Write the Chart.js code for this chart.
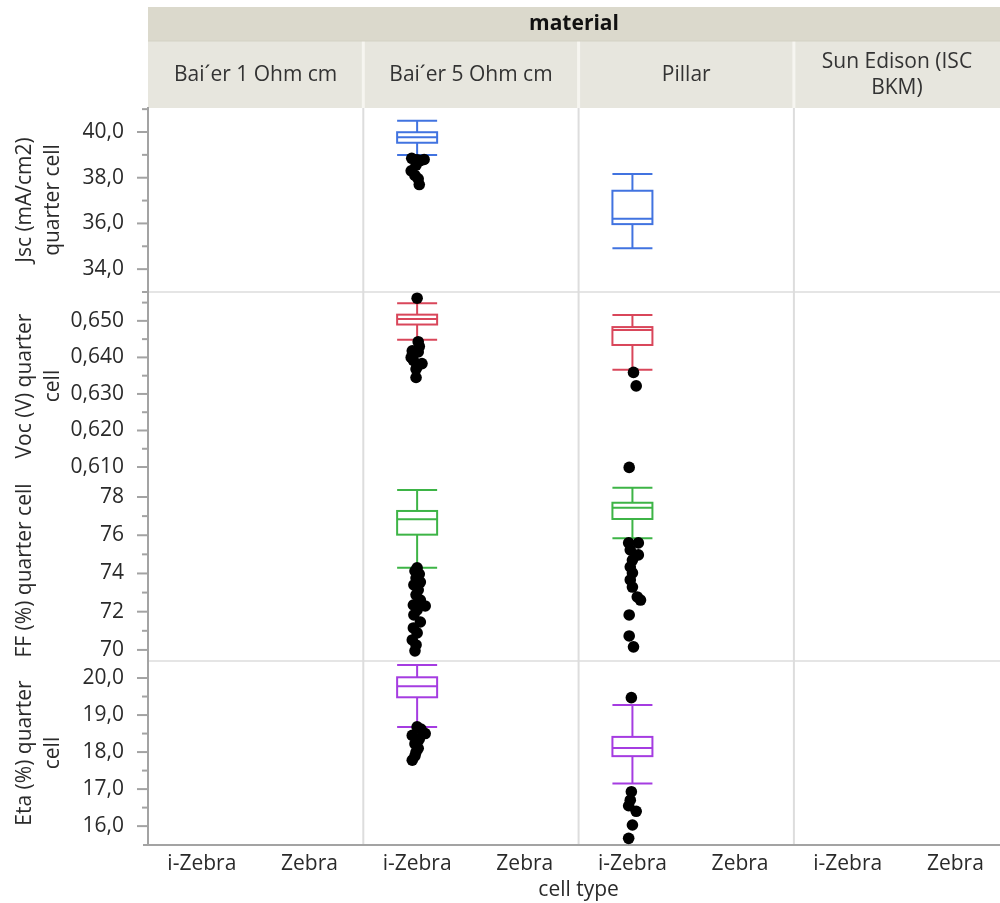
<!DOCTYPE html>
<html><head><meta charset="utf-8">
<script src="https://cdn.jsdelivr.net/npm/chart.js@4.4.1/dist/chart.umd.min.js"></script>
<style>
html,body{margin:0;padding:0;overflow:hidden;background:#fff;width:1000px;height:903px}
#wrap{width:1015px;height:903px;position:relative}
canvas{display:block}
</style>
</head><body>
<div id="wrap"><canvas id="c" width="1015" height="903"></canvas></div>
<script>
// ---------------- DATA ----------------
const materials = ['Bai´er 1 Ohm cm', 'Bai´er 5 Ohm cm', 'Pillar', 'Sun Edison (ISC BKM)'];
const cellTypes = ['i-Zebra', 'Zebra'];
const headerTitle = 'material';
const xTitle = 'cell type';

// y tick labels (major) and minor ticks
const jscTicks = [34, 36, 38, 40];
const jscMinor = [33, 35, 37, 39, 41];
const vocTicks = [0.610, 0.620, 0.630, 0.640, 0.650];
const vocMinor = [0.615, 0.625, 0.635, 0.645, 0.655];
const ffTicks = [70, 72, 74, 76, 78];
const ffMinor = [71, 73, 75, 77];
const etaTicks = [16, 17, 18, 19, 20];
const etaMinor = [16.5, 17.5, 18.5, 19.5];

// box statistics, one entry per x category (material x cell type)
const jscLow  = [null, null, 38.99, null, 34.91, null, null, null];
const jscQ1   = [null, null, 39.53, null, 35.97, null, null, null];
const jscMed  = [null, null, 39.77, null, 36.21, null, null, null];
const jscQ3   = [null, null, 39.99, null, 37.43, null, null, null];
const jscHigh = [null, null, 40.49, null, 38.16, null, null, null];

const vocLow  = [null, null, 0.6448, null, 0.6366, null, null, null];
const vocQ1   = [null, null, 0.6490, null, 0.6434, null, null, null];
const vocMed  = [null, null, 0.6505, null, 0.6475, null, null, null];
const vocQ3   = [null, null, 0.6517, null, 0.6483, null, null, null];
const vocHigh = [null, null, 0.6548, null, 0.6516, null, null, null];

const ffLow  = [null, null, 74.30, null, 75.84, null, null, null];
const ffQ1   = [null, null, 76.03, null, 76.85, null, null, null];
const ffMed  = [null, null, 76.83, null, 77.44, null, null, null];
const ffQ3   = [null, null, 77.27, null, 77.70, null, null, null];
const ffHigh = [null, null, 78.37, null, 78.49, null, null, null];

const etaLow  = [null, null, 18.68, null, 17.15, null, null, null];
const etaQ1   = [null, null, 19.48, null, 17.89, null, null, null];
const etaMed  = [null, null, 19.78, null, 18.11, null, null, null];
const etaQ3   = [null, null, 20.02, null, 18.41, null, null, null];
const etaHigh = [null, null, 20.35, null, 19.27, null, null, null];

// outlier points (values) and their horizontal jitter (in category units)
const jscOutB5 = [38.85, 38.80, 38.78, 38.75, 38.55, 38.30, 38.10, 37.95, 37.70];
const jscJitB5 = [-0.05, 0.065, 0, 0.03, -0.01, -0.055, -0.02, 0.01, 0.02];
const vocOutB5 = [0.6562, 0.6443, 0.6430, 0.6418, 0.6415, 0.6400, 0.6392, 0.6383, 0.6375, 0.6368, 0.6345];
const vocJitB5 = [0, 0.01, 0.02, -0.045, 0.01, -0.055, -0.035, 0.045, 0, -0.01, -0.01];
const ffOutB5 = [74.29, 74.13, 73.97, 73.76, 73.55, 73.40, 73.14, 72.88, 72.61, 72.35, 72.30, 72.10, 71.83, 71.46, 71.15, 70.89, 70.52, 70.26, 69.95];
const ffJitB5 = [0, -0.02, 0.02, -0.01, 0.03, -0.03, 0.01, -0.01, 0.03, -0.035, 0.075, 0, -0.03, 0.03, -0.035, 0, -0.045, -0.01, -0.02];
const etaOutB5 = [18.68, 18.62, 18.50, 18.45, 18.35, 18.22, 18.10, 18.00, 17.90, 17.78];
const etaJitB5 = [0, 0.035, 0.075, -0.045, 0.02, -0.02, 0.01, -0.01, -0.02, -0.045];

const vocOutPil = [0.6359, 0.6322, 0.6099];
const vocJitPil = [0.01, 0.035, -0.03];
const ffOutPil = [75.60, 75.60, 75.23, 74.97, 74.70, 74.34, 74.03, 73.66, 73.29, 72.77, 72.61, 71.83, 70.73, 70.16];
const ffJitPil = [-0.035, 0.055, -0.02, 0.055, 0, -0.02, 0, -0.02, 0, 0.045, 0.075, -0.03, -0.03, 0.01];
const etaOutPil = [19.47, 16.93, 16.70, 16.55, 16.40, 16.03, 15.67];
const etaJitPil = [-0.01, -0.01, -0.02, -0.035, 0.035, 0, -0.035];

const B5_INDEX = 2;   // Bai´er 5 Ohm cm / i-Zebra
const PIL_INDEX = 4;  // Pillar / i-Zebra

// ---------------- STYLE ----------------
const FONT = '"Open Sans", "Noto Sans", sans-serif';
const FS = 21;
const TEXT = '#2a2a2a';
const AXIS = '#a3a3a3';
const SEP = '#dddddd';
const VISIBLE_RIGHT = 1000;

const xLabels = materials.flatMap(() => cellTypes);

const panels = [
  {id: 'yJsc', title: ['Jsc (mA/cm2)', 'quarter cell'], min: 33.0, max: 41.05, weight: 184, ticks: jscTicks, minor: jscMinor, dec: 1, color: '#4173e0',
   stats: [jscLow, jscQ1, jscMed, jscQ3, jscHigh], out: [[B5_INDEX, jscOutB5, jscJitB5]], sepBelow: true},
  {id: 'yVoc', title: ['Voc (V) quarter', 'cell'], min: 0.60645, max: 0.6579, weight: 188, ticks: vocTicks, minor: vocMinor, dec: 3, color: '#d9465a',
   stats: [vocLow, vocQ1, vocMed, vocQ3, vocHigh], out: [[B5_INDEX, vocOutB5, vocJitB5], [PIL_INDEX, vocOutPil, vocJitPil]], sepBelow: false},
  {id: 'yFF', title: ['FF (%) quarter cell'], min: 69.42, max: 78.89, weight: 181, ticks: ffTicks, minor: ffMinor, dec: 0, color: '#3db446',
   stats: [ffLow, ffQ1, ffMed, ffQ3, ffHigh], out: [[B5_INDEX, ffOutB5, ffJitB5], [PIL_INDEX, ffOutPil, ffJitPil]], sepBelow: true},
  {id: 'yEta', title: ['Eta (%) quarter', 'cell'], min: 15.49, max: 20.46, weight: 184, ticks: etaTicks, minor: etaMinor, dec: 1, color: '#a53ce1',
   stats: [etaLow, etaQ1, etaMed, etaQ3, etaHigh], out: [[B5_INDEX, etaOutB5, etaJitB5], [PIL_INDEX, etaOutPil, etaJitPil]], sepBelow: false}
];

// ---------------- DATASETS ----------------
const datasets = [];
panels.forEach(p => {
  p.out.forEach(([ci, vals, jit]) => {
    datasets.push({
      type: 'scatter',
      yAxisID: p.id,
      data: vals.map((v, i) => ({x: ci + 0.5 + jit[i], y: v})),
      pointRadius: 5.8,
      pointHoverRadius: 5.8,
      backgroundColor: '#000',
      borderWidth: 0,
      clip: false
    });
  });
});

// ---------------- SCALES ----------------
const scales = {
  x: {
    type: 'linear', min: 0, max: 8,
    afterBuildTicks: s => { s.ticks = xLabels.map((_, i) => ({value: i + 0.5})); },
    afterFit: s => { s.height = 58; },
    ticks: {
      callback: v => xLabels[Math.floor(v)],
      font: {family: FONT, size: FS}, color: TEXT, padding: 6,
      autoSkip: false, maxRotation: 0, minRotation: 0
    },
    grid: {display: false, drawTicks: false},
    border: {display: true, color: AXIS, width: 2},
    title: {display: true, text: xTitle, font: {family: FONT, size: FS}, color: TEXT, padding: {top: 0, bottom: 0}}
  }
};
// left stack: later-defined axes are placed higher, so define bottom-up
panels.slice().reverse().forEach(p => {
  scales[p.id] = {
    type: 'linear', position: 'left', stack: 'rows', stackWeight: p.weight,
    min: p.min, max: p.max,
    afterBuildTicks: s => { s.ticks = p.ticks.map(v => ({value: v})); },
    afterFit: s => { s.width = 148; },
    ticks: {
      callback: v => v.toFixed(p.dec).replace('.', ','),
      font: {family: FONT, size: FS}, color: TEXT, padding: 24, autoSkip: false
    },
    grid: {display: false, drawTicks: false},
    border: {display: true, color: AXIS, width: 2}
  };
});

// ---------------- DECORATION PLUGIN ----------------
function line(ctx, x1, y1, x2, y2) { ctx.beginPath(); ctx.moveTo(x1, y1); ctx.lineTo(x2, y2); ctx.stroke(); }

function wrapText(ctx, text, maxW) {
  const words = text.split(' ');
  const lines = [];
  let cur = '';
  words.forEach(w => {
    const t = cur ? cur + ' ' + w : w;
    if (ctx.measureText(t).width > maxW && cur) { lines.push(cur); cur = w; } else cur = t;
  });
  if (cur) lines.push(cur);
  return lines;
}

const deco = {
  id: 'deco',
  beforeDraw(chart) {
    const {ctx, chartArea: a, scales: s} = chart;
    const xs = s.x;
    ctx.save();
    const L = a.left;
    // header bands
    ctx.fillStyle = '#dbd9cc';
    ctx.fillRect(L, 7, chart.width - L, 34);
    ctx.fillStyle = '#e7e6de';
    ctx.fillRect(L, 41, chart.width - L, 67);
    ctx.strokeStyle = '#f6f5f0'; ctx.lineWidth = 3;
    for (let k = 1; k < materials.length; k++) {
      const x = xs.getPixelForValue(2 * k);
      line(ctx, x, 41, x, 108);
    }
    ctx.strokeStyle = '#d3d1c4'; ctx.lineWidth = 1;
    line(ctx, L, 41, chart.width, 41);
    ctx.fillStyle = '#111';
    ctx.textAlign = 'center'; ctx.textBaseline = 'middle';
    ctx.font = 'bold ' + FS + 'px ' + FONT;
    ctx.fillText(headerTitle, (L + VISIBLE_RIGHT) / 2, 24);
    ctx.font = FS + 'px ' + FONT;
    ctx.fillStyle = '#333';
    materials.forEach((m, k) => {
      const x0 = xs.getPixelForValue(2 * k), x1 = Math.min(xs.getPixelForValue(2 * k + 2), VISIBLE_RIGHT);
      const lines = wrapText(ctx, m, x1 - x0 - 20);
      const cy = 75, lh = 26;
      lines.forEach((t, i) => ctx.fillText(t, (x0 + x1) / 2, cy + (i - (lines.length - 1) / 2) * lh));
    });
    // vertical separators between materials
    ctx.strokeStyle = SEP; ctx.lineWidth = 2;
    for (let k = 1; k < materials.length; k++) {
      const x = xs.getPixelForValue(2 * k);
      line(ctx, x, a.top, x, a.bottom);
    }
    // horizontal separators between panels
    ctx.lineWidth = 1.5;
    panels.forEach(p => {
      if (p.sepBelow) {
        const sc = s[p.id];
        line(ctx, L, sc.bottom, chart.width, sc.bottom);
      }
    });
    ctx.restore();
  },
  beforeDatasetsDraw(chart) {
    const {ctx, scales: s} = chart;
    const xs = s.x;
    ctx.save();
    ctx.lineWidth = 2;
    panels.forEach(p => {
      const ys = s[p.id];
      const [lo, q1, md, q3, hi] = p.stats;
      ctx.strokeStyle = p.color;
      for (let i = 0; i < lo.length; i++) {
        if (lo[i] == null) continue;
        const cx = xs.getPixelForValue(i + 0.5);
        const hw = 20;
        const P = v => ys.getPixelForValue(v);
        line(ctx, cx, P(lo[i]), cx, P(q1[i]));
        line(ctx, cx, P(q3[i]), cx, P(hi[i]));
        line(ctx, cx - hw, P(lo[i]), cx + hw, P(lo[i]));
        line(ctx, cx - hw, P(hi[i]), cx + hw, P(hi[i]));
        ctx.strokeRect(cx - hw, P(q3[i]), 2 * hw, P(q1[i]) - P(q3[i]));
        line(ctx, cx - hw, P(md[i]), cx + hw, P(md[i]));
      }
    });
    ctx.restore();
  },
  afterDraw(chart) {
    const {ctx, chartArea: a, scales: s} = chart;
    ctx.save();
    // tick marks
    ctx.strokeStyle = AXIS; ctx.lineWidth = 2;
    panels.forEach(p => {
      const ys = s[p.id];
      p.ticks.forEach(v => { const y = ys.getPixelForValue(v); line(ctx, a.left - 11, y, a.left, y); });
      p.minor.forEach(v => { const y = ys.getPixelForValue(v); line(ctx, a.left - 6, y, a.left, y); });
    });
    // bottom axis extends a bit left
    line(ctx, a.left - 5, a.bottom, a.left, a.bottom);
    // axis titles
    ctx.fillStyle = TEXT;
    ctx.font = FS + 'px ' + FONT;
    ctx.textAlign = 'center'; ctx.textBaseline = 'middle';
    panels.forEach(p => {
      const ys = s[p.id];
      const cy = (ys.top + ys.bottom) / 2;
      p.title.forEach((t, i) => {
        ctx.save();
        ctx.translate(25 + i * 28, cy);
        ctx.rotate(-Math.PI / 2);
        ctx.fillText(t, 0, 0);
        ctx.restore();
      });
    });
    ctx.restore();
  }
};

new Chart(document.getElementById('c'), {
  type: 'scatter',
  data: {datasets},
  options: {
    responsive: false,
    animation: false,
    devicePixelRatio: 1,
    layout: {padding: {top: 108, left: 0, right: 0, bottom: 0}},
    plugins: {legend: {display: false}, tooltip: {enabled: false}},
    scales
  },
  plugins: [deco]
});
</script>
</body></html>
